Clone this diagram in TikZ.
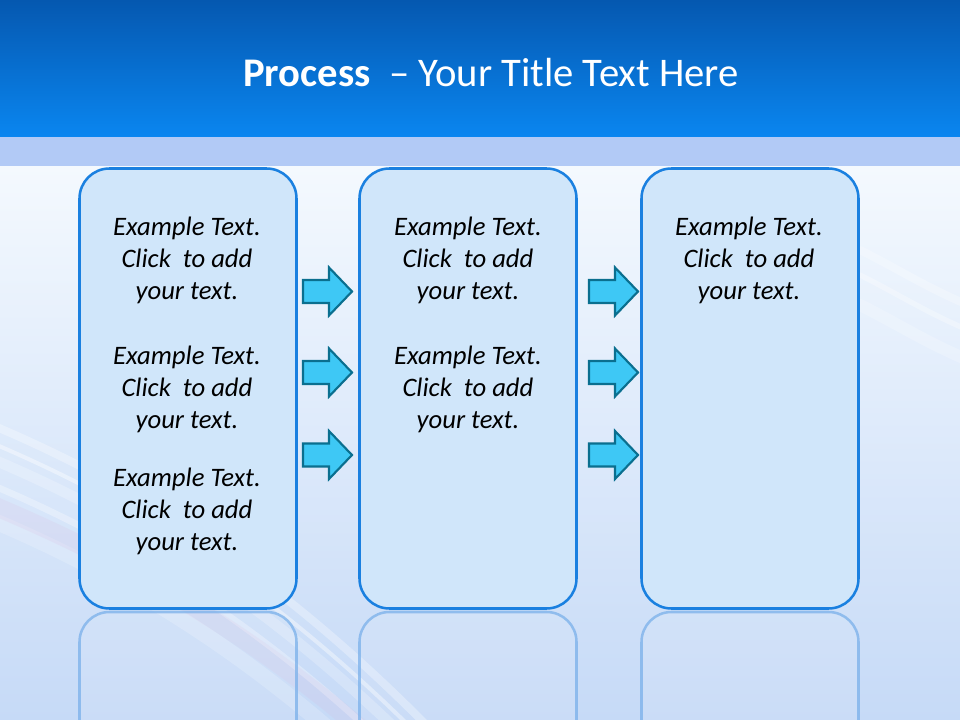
\documentclass[tikz,border=0pt]{standalone}
\usepackage{fontspec}
\setmainfont{Carlito}
\usetikzlibrary{calc}
\definecolor{topA}{HTML}{0558B0}
\definecolor{topB}{HTML}{0A86F0}
\definecolor{bandC}{HTML}{B2CAF6}
\definecolor{bgA}{HTML}{F4F9FE}
\definecolor{bgM}{HTML}{E2EEFC}
\definecolor{bgB}{HTML}{C6DAF7}
\definecolor{boxFill}{HTML}{D0E6FA}
\definecolor{boxLine}{HTML}{1A80E0}
\definecolor{reflLine}{HTML}{7AB0EA}
\definecolor{arrFill}{HTML}{3EC8F5}
\definecolor{arrLine}{HTML}{0A6F8F}
\tikzset{
  stagebox/.style={draw=boxLine, line width=1.9pt, fill=boxFill, rounded corners=22.5pt,
    minimum width=162.75pt, minimum height=330pt, inner sep=0pt},
  reflbox/.style={draw=reflLine, line width=1.9pt, draw opacity=0.75, fill=white, fill opacity=0.08,
    rounded corners=22.5pt, minimum width=162.75pt, minimum height=330pt, inner sep=0pt},
  bodytext/.style={font=\itshape\fontsize{20pt}{24pt}\selectfont, align=center, text=black, inner sep=0pt},
  flowarrow/.style={draw=arrLine, line width=1.6pt, fill=arrFill, line join=miter},
  streak/.style={white, line cap=round}
}
\newcommand{\flowarrowat}[1]{%
  \draw[flowarrow] ($(#1)+(0,-11.5)$) -- ++(26,0) -- ++(0,-12.5) -- ++(23,24) -- ++(-23,24) -- ++(0,-12.5) -- ++(-26,0) -- cycle;}
\newcommand{\exampletext}{Example Text.\\Click\ \ to add\\your text.}
\begin{document}
\begin{tikzpicture}[x=0.75pt, y=-0.75pt]
\useasboundingbox (0,0) rectangle (960,720);
\begin{scope}
\clip (0,0) rectangle (960,720);
% backgrounds
\shade[top color=bgA, middle color=bgM, bottom color=bgB] (0,166) rectangle (960,720);
% streaks lower left
\foreach \o/\w/\a in {0/6/0.30, 18/3/0.40, 34/8/0.22, 60/5/0.30, 95/12/0.18}{
  \draw[streak, line width=\w pt, opacity=\a] (-20,420+\o) .. controls (150,490+\o) and (300,590+\o) .. (460,760+\o);
}
\draw[violet!30, line width=14pt, opacity=0.15] (-20,500) .. controls (150,570) and (300,660) .. (460,820);
\foreach \o/\w/\a in {0/6/0.25, 25/4/0.3, 55/9/0.2}{
  \draw[streak, line width=\w pt, opacity=\a] (860,250+\o) .. controls (900,270+\o) and (930,290+\o) .. (980,310+\o);
}
% title band
\shade[top color=topA, bottom color=topB] (0,0) rectangle (960,137);
\fill[bandC] (0,137) rectangle (960,166);
\end{scope}
\node[text=white, font=\fontsize{30.5pt}{34pt}\selectfont, inner sep=0pt, anchor=base] (title) at (491,87)
  {\textbf{Process}\ \ – Your Title Text Here};
% reflections
\begin{scope}
\clip (0,610) rectangle (960,720);
\node[reflbox] (r1) at (188,832) {};
\node[reflbox] (r2) at (468,832) {};
\node[reflbox] (r3) at (750,832) {};
\end{scope}
% boxes
\node[stagebox] (b1) at (188,388.5) {};
\node[stagebox] (b2) at (468,388.5) {};
\node[stagebox] (b3) at (750,388.5) {};
% texts
\node[bodytext] (ta) at (187,260) {\exampletext};
\node[bodytext] (tb) at (187,389) {\exampletext};
\node[bodytext] (tc) at (187,511) {\exampletext};
\node[bodytext] (td) at (468,260) {\exampletext};
\node[bodytext] (te) at (468,389) {\exampletext};
\node[bodytext] (tf) at (749,260) {\exampletext};
% arrows
\coordinate (p1) at (303,291.5);
\coordinate (p2) at (303,372.5);
\coordinate (p3) at (303,455);
\coordinate (q1) at (589,291.5);
\coordinate (q2) at (589,372.5);
\coordinate (q3) at (589,455);
\flowarrowat{p1}\flowarrowat{p2}\flowarrowat{p3}
\flowarrowat{q1}\flowarrowat{q2}\flowarrowat{q3}
\end{tikzpicture}
\end{document}
